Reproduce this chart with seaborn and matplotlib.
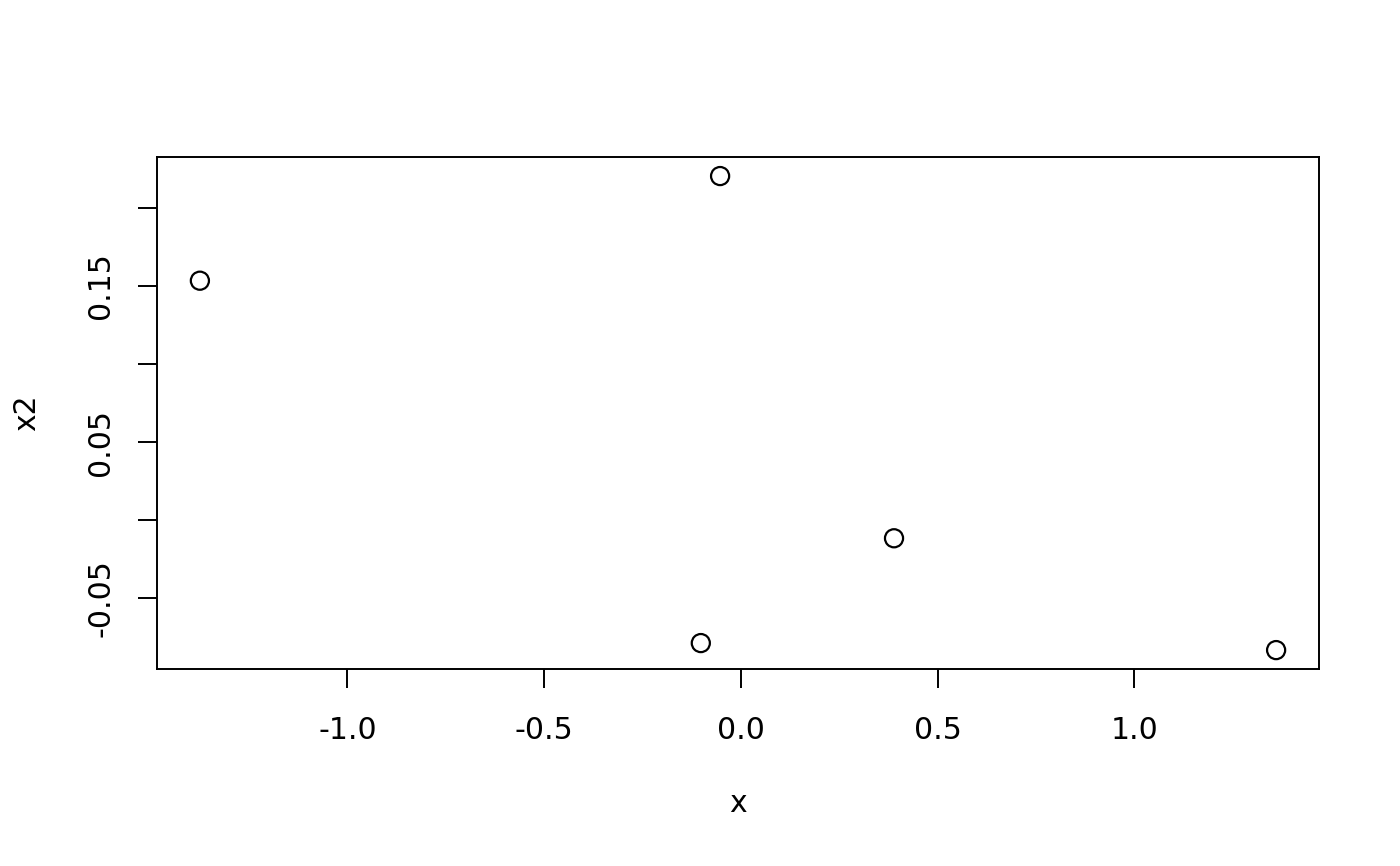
import matplotlib
matplotlib.use("Agg")
import matplotlib.pyplot as plt
import seaborn as sns
import pandas as pd

# data
x_vals = [-1.375, -0.053, 0.389, -0.102, 1.360]
x2_vals = [0.1534, 0.2204, -0.0115, -0.0786, -0.0831]

x_ticks = [-1.0, -0.5, 0.0, 0.5, 1.0]
x_tick_labels = ["-1.0", "-0.5", "0.0", "0.5", "1.0"]
y_ticks = [-0.05, 0.0, 0.05, 0.10, 0.15, 0.20]
y_tick_labels = ["-0.05", "", "0.05", "", "0.15", ""]

df = pd.DataFrame({"x": x_vals, "x2": x2_vals})

sns.set_style("ticks")
plt.rcParams["font.family"] = ["DejaVu Sans"]

fig = plt.figure(figsize=(14, 8.66), dpi=100)
ax = fig.add_axes([157 / 1400, (866 - 669) / 866, 1162 / 1400, 512 / 866])

sns.scatterplot(data=df, x="x", y="x2", ax=ax, marker="o", s=170,
                facecolor="none", edgecolor="black", linewidth=1.6)

ax.set_xlim(-1.484, 1.469)
ax.set_ylim(-0.0952, 0.2326)

ax.set_xticks(x_ticks)
ax.set_xticklabels(x_tick_labels)
ax.set_yticks(y_ticks)
ax.set_yticklabels(y_tick_labels, rotation=90, va="center")

fs = 21.5
ax.tick_params(axis="both", length=13.5, width=1.4, color="black",
               labelsize=fs, labelcolor="black", direction="out")
ax.tick_params(axis="x", pad=20)
ax.tick_params(axis="y", pad=16.5)

for sp in ax.spines.values():
    sp.set_visible(True)
    sp.set_linewidth(1.4)
    sp.set_color("black")

ax.set_xlabel("x", fontsize=fs, color="black")
ax.set_ylabel("x2", fontsize=fs, color="black")
ax.xaxis.label.set_va("center")
ax.yaxis.label.set_va("center")
ax.xaxis.set_label_coords(0.5, (669 - 803) / 512)
ax.yaxis.set_label_coords((27 - 157) / 1162, 0.5)

fig.savefig("out.png", dpi=100, facecolor="white")
